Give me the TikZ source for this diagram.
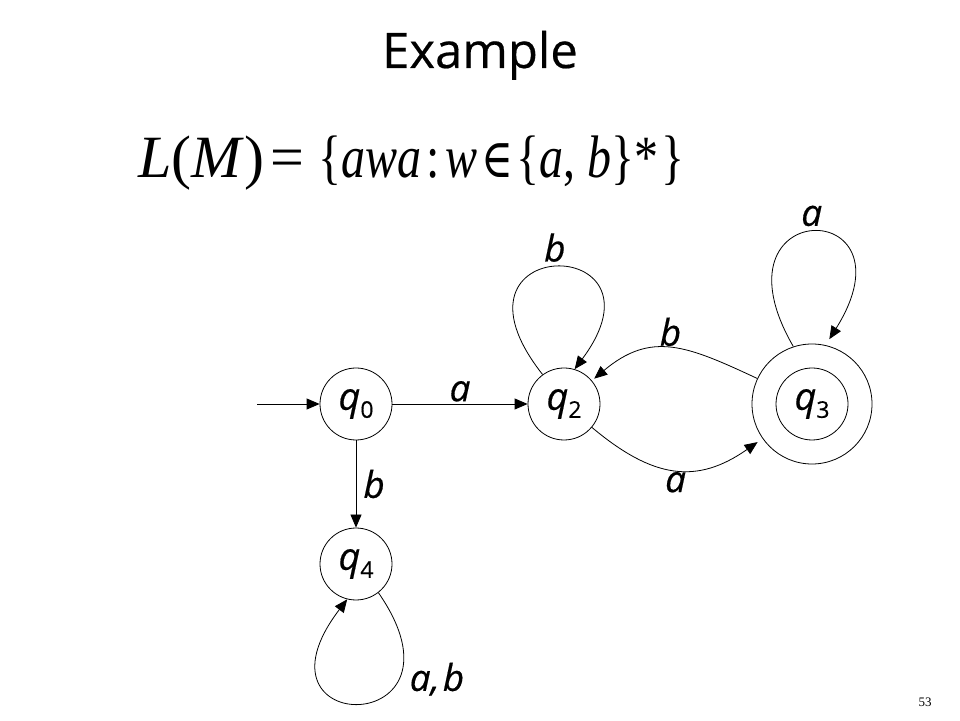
\documentclass[tikz,border=0pt]{standalone}
\usepackage{graphicx}
\usepackage{fontspec}
\usepackage{tikz}
\usetikzlibrary{arrows.meta,positioning}
\newfontfamily\comic{Open Sans}[FakeBold=0.4]
\newfontfamily\tms{Liberation Serif}
\newfontfamily\dvs{DejaVu Serif}
\newcommand{\qs}[1]{\textit{q}\raisebox{-8pt}{\fontsize{23}{23}\selectfont #1}}

\begin{document}
\begin{tikzpicture}[x=1pt,y=1pt,line width=0.8pt,>={Triangle[length=13pt,width=11pt]}]
\tikzstyle{state}=[circle, draw, minimum size=72pt, inner sep=0pt, font=\comic\fontsize{38}{38}\selectfont]
\tikzstyle{lbl}=[font=\comic\itshape\fontsize{37}{37}\selectfont, inner sep=2pt]
\useasboundingbox (0,0) rectangle (960,720);
\node[font=\comic\fontsize{49}{49}\selectfont, anchor=base] (title) at (480,652) {Example};
\node[anchor=base west, inner sep=0pt, font=\tms\fontsize{60}{60}\selectfont] (lang) at (138,542)
  {\textit{L}(\textit{M})\kern6pt=\kern14pt\scalebox{0.8}[1]{\{\textit{awa}\kern6pt:\kern8pt\textit{w}\kern4pt{\dvs\fontsize{54}{54}\selectfont ∈}\kern4pt\{\textit{a}, \textit{b}\}*\kern4pt\}}};

\node[state] (q0) at (356,316) {\qs{0}};
\node[state, on grid, right=208pt of q0] (q2) {\qs{2}};
\node[state, on grid, right=248pt of q2, minimum size=120pt] (q3) {};
\node[state] (q3in) at (q3) {\qs{3}};
\node[state, on grid, below=160pt of q0] (q4) {\qs{4}};
\coordinate[on grid, left=99pt of q0] (start);

\draw[->] (start) -- (q0);
\draw[->] (q0) -- node[lbl, above] {a} (q2);
\draw[->] (q0) -- node[lbl, right=5pt] {b} (q4);
\draw[->, shorten >=6pt] (q2) to[out=-40, in=-145, looseness=1.2] node[lbl, below] {a} (q3);
\draw[->, shorten >=3pt] (q3) to[out=155, in=40, looseness=1.2] node[lbl, above] {b} (q2);

% loops
\draw[->] (q2.126) .. controls +(-112,142) and +(102,137) .. (q2.73) node[lbl, pos=0.5, above=3pt] {b};
\draw[->, shorten >=7pt] (q3.108) .. controls +(-88,152) and +(94,150) .. (q3.77) node[lbl, pos=0.5, above=4pt] {a};
\draw[->] (q4.-52) .. controls +(101,-146) and +(-107,-140) .. (q4.-104) node[lbl, pos=0.27, right=8pt] {a,\kern3pt b};

\node[font=\tms\fontsize{13}{13}\selectfont] (page) at (925,18) {53};
\end{tikzpicture}
\end{document}
